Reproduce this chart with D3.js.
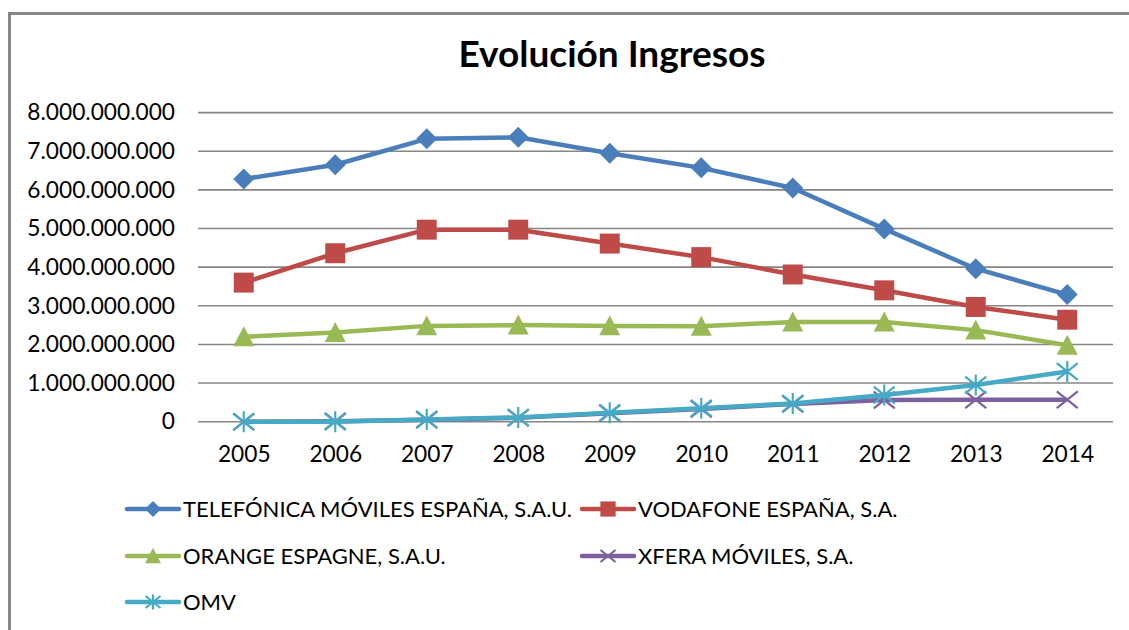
<!DOCTYPE html>
<html><head><meta charset="utf-8">
<script src="https://cdn.jsdelivr.net/npm/d3@7"></script>
<style>body{margin:0;background:#fff;} svg{display:block;}</style>
</head><body>
<svg id="c" width="1129" height="630"></svg>
<script>
const years = ["2005","2006","2007","2008","2009","2010","2011","2012","2013","2014"];
const telefonica = [6.28e9,6.65e9,7.32e9,7.36e9,6.95e9,6.57e9,6.05e9,4.99e9,3.96e9,3.29e9];
const vodafone   = [3.60e9,4.36e9,4.97e9,4.97e9,4.61e9,4.26e9,3.81e9,3.40e9,2.97e9,2.64e9];
const orange     = [2.20e9,2.31e9,2.48e9,2.50e9,2.48e9,2.47e9,2.58e9,2.58e9,2.37e9,1.98e9];
const xfera      = [0.00e9,0.01e9,0.05e9,0.10e9,0.22e9,0.33e9,0.46e9,0.56e9,0.57e9,0.57e9];
const omv        = [0.00e9,0.00e9,0.06e9,0.11e9,0.23e9,0.35e9,0.47e9,0.69e9,0.95e9,1.30e9];
const seriesNames = ["TELEFÓNICA MÓVILES ESPAÑA, S.A.U.","VODAFONE ESPAÑA, S.A.","ORANGE ESPAGNE, S.A.U.","XFERA MÓVILES, S.A.","OMV"];
const yTicks = [0,1e9,2e9,3e9,4e9,5e9,6e9,7e9,8e9];
const title = "Evolución Ingresos";

const series = [
  {name: seriesNames[0], values: telefonica, color:"#4A7EBB", marker:"diamond"},
  {name: seriesNames[1], values: vodafone,   color:"#BE4B48", marker:"square"},
  {name: seriesNames[2], values: orange,     color:"#98B954", marker:"triangle"},
  {name: seriesNames[3], values: xfera,      color:"#7D60A0", marker:"x"},
  {name: seriesNames[4], values: omv,        color:"#46AAC5", marker:"star"}
];

const FONT = "Lato, 'Open Sans', sans-serif";
const svg = d3.select("#c");
svg.append("rect").attr("x",9.5).attr("y",13.5).attr("width",1140).attr("height",640)
  .attr("fill","#fff").attr("stroke","#878787").attr("stroke-width",3);

const x = d3.scalePoint().domain(years).range([198,1113]).padding(0.5);
const y = d3.scaleLinear().domain([0,8e9]).range([421.7,112.6]);
const loc = d3.formatLocale({decimal:",", thousands:".", grouping:[3], currency:["","€"]});
const fmt = loc.format(",d");

// gridlines
svg.append("g").selectAll("line").data(yTicks).join("line")
  .attr("x1",198).attr("x2",1113).attr("y1",d=>y(d)).attr("y2",d=>y(d))
  .attr("stroke","#868686").attr("stroke-width",1.6);

// y axis
const ya = svg.append("g").attr("transform","translate(175,0)")
  .call(d3.axisLeft(y).tickValues(yTicks).tickFormat(fmt).tickSize(0).tickPadding(0));
ya.select(".domain").remove();
ya.selectAll("text").attr("font-family",FONT).attr("font-size",22.7).attr("fill","#000");

// x axis
const xa = svg.append("g").attr("transform","translate(0,421.7)")
  .call(d3.axisBottom(x).tickSize(0).tickPadding(24));
xa.select(".domain").remove();
xa.selectAll("text").attr("font-family",FONT).attr("font-size",22.7).attr("fill","#000");

// title
svg.append("text").attr("x",612).attr("y",67).attr("text-anchor","middle")
  .attr("font-family",FONT).attr("font-weight","bold").attr("font-size",37).attr("fill","#000").text(title);

function drawMarker(g, type, color, cx, cy, s){
  if(type==="diamond"){
    g.append("path").attr("d",`M${cx},${cy-s}L${cx+s},${cy}L${cx},${cy+s}L${cx-s},${cy}Z`).attr("fill",color);
  } else if(type==="square"){
    g.append("rect").attr("x",cx-s*0.95).attr("y",cy-s*0.95).attr("width",s*1.9).attr("height",s*1.9).attr("fill",color);
  } else if(type==="triangle"){
    g.append("path").attr("d",`M${cx},${cy-s}L${cx+s},${cy+s*0.9}L${cx-s},${cy+s*0.9}Z`).attr("fill",color);
  } else if(type==="x"){
    g.append("path").attr("d",`M${cx-s},${cy-s*0.8}L${cx+s},${cy+s*0.8}M${cx-s},${cy+s*0.8}L${cx+s},${cy-s*0.8}`)
      .attr("stroke",color).attr("stroke-width",2.2).attr("fill","none");
  } else if(type==="star"){
    g.append("path").attr("d",`M${cx-s},${cy-s*0.8}L${cx+s},${cy+s*0.8}M${cx-s},${cy+s*0.8}L${cx+s},${cy-s*0.8}M${cx},${cy-s}L${cx},${cy+s}`)
      .attr("stroke",color).attr("stroke-width",2.2).attr("fill","none");
  }
}

const line = d3.line().x((d,i)=>x(years[i])).y(d=>y(d));
series.forEach(s=>{
  const g = svg.append("g");
  g.append("path").datum(s.values).attr("d",line).attr("fill","none")
    .attr("stroke",s.color).attr("stroke-width",4.5).attr("stroke-linejoin","round");
  s.values.forEach((v,i)=>drawMarker(g, s.marker, s.color, x(years[i]), y(v), 10.5));
});

// legend
const legPos = [[127,509],[582,509],[127,556],[582,556],[127,602]];
series.forEach((s,i)=>{
  const [lx,ly] = legPos[i];
  const g = svg.append("g");
  g.append("line").attr("x1",lx).attr("x2",lx+52).attr("y1",ly).attr("y2",ly)
    .attr("stroke",s.color).attr("stroke-width",4.5).attr("stroke-linecap","round");
  const ms = (s.marker==="x"||s.marker==="star") ? 7.5 : 8;
  drawMarker(g, s.marker, s.color, lx+26, ly, ms);
  g.append("text").attr("x",lx+56).attr("y",ly).attr("dy","0.36em")
    .attr("font-family",FONT).attr("font-size",22).attr("fill","#000").text(s.name);
});
</script>
</body></html>
